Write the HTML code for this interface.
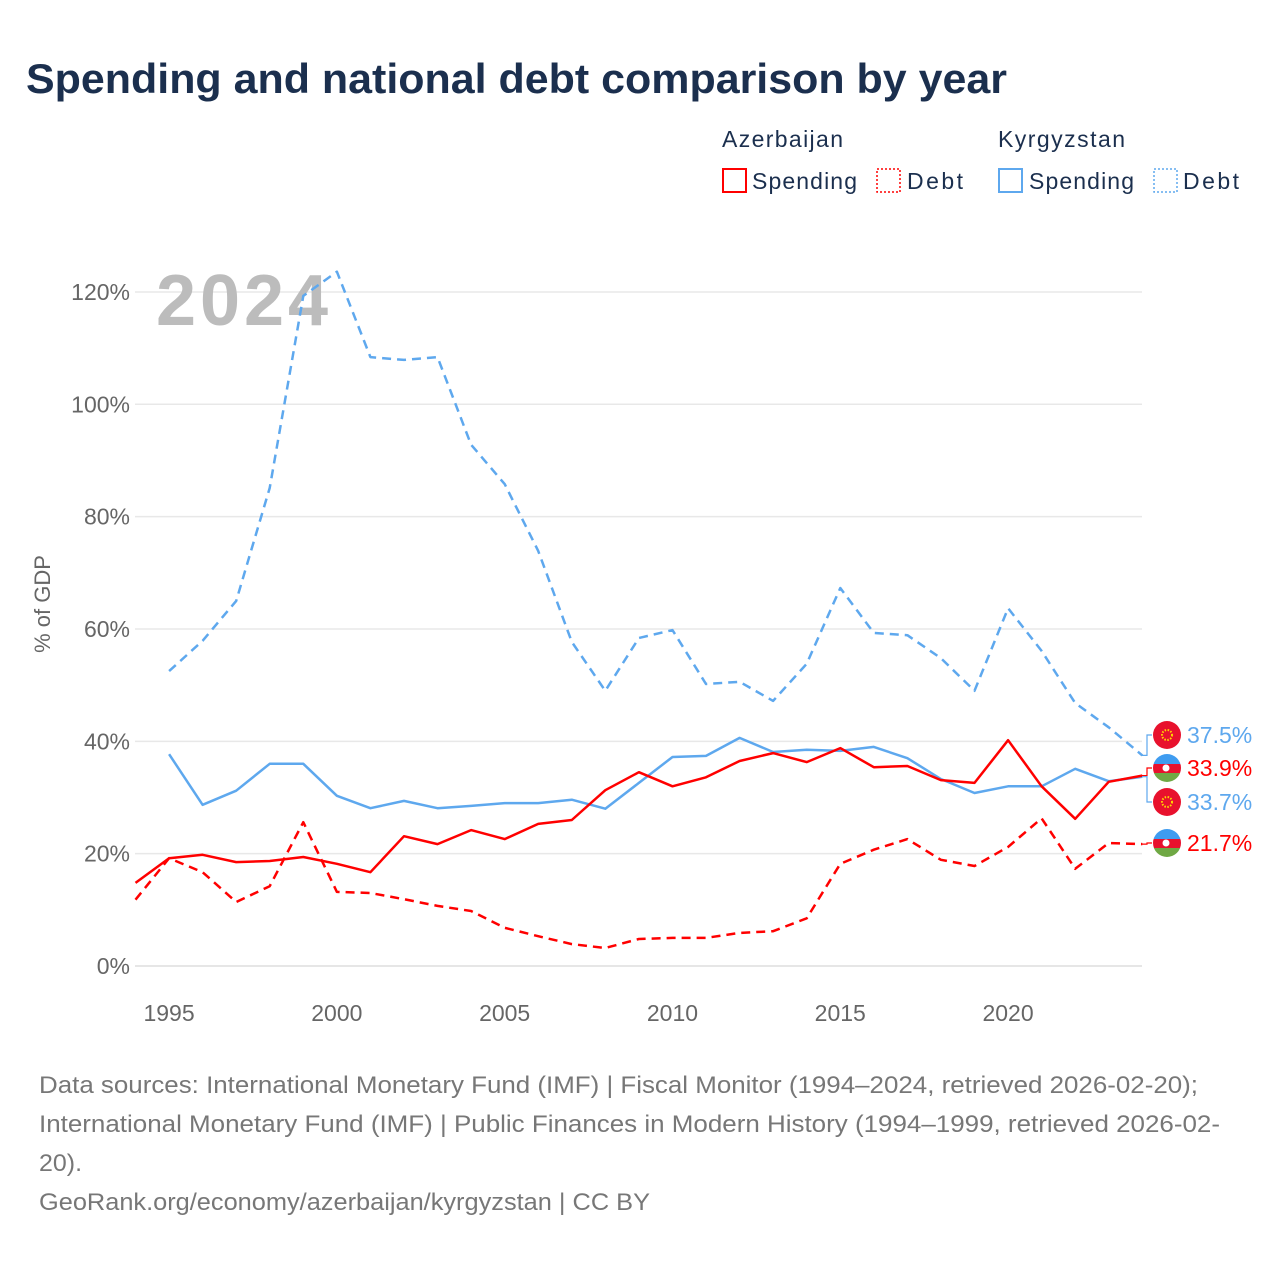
<!DOCTYPE html>
<html><head><meta charset="utf-8"><style>
body{margin:0;background:#fff;font-family:"Liberation Sans",sans-serif;}
svg text{font-family:"Liberation Sans",sans-serif;}
</style></head><body>
<svg id="chart" width="1280" height="1280" viewBox="0 0 1280 1280">
<text x="26" y="93" font-size="42" font-weight="bold" fill="#1b2f4e" textLength="981" lengthAdjust="spacingAndGlyphs">Spending and national debt comparison by year</text>
<g>
<text x="722" y="147" font-size="23" fill="#1b2f4e" textLength="121">Azerbaijan</text>
<text x="998" y="147" font-size="23" fill="#1b2f4e" textLength="127">Kyrgyzstan</text>
<g><rect x="723" y="169" width="23" height="23" fill="none" stroke="#f00" stroke-width="2"/><text x="752" y="189" font-size="23" fill="#1b2f4e" textLength="105">Spending</text></g>
<g><rect x="877" y="169" width="23" height="23" fill="none" stroke="#f00" stroke-width="1.5" stroke-dasharray="2,2"/><text x="907" y="189" font-size="23" fill="#1b2f4e" textLength="56">Debt</text></g>
<g><rect x="999" y="169" width="23" height="23" fill="none" stroke="#5ea8ee" stroke-width="2"/><text x="1029" y="189" font-size="23" fill="#1b2f4e" textLength="105">Spending</text></g>
<g><rect x="1154" y="169" width="23" height="23" fill="none" stroke="#5ea8ee" stroke-width="1.5" stroke-dasharray="2,2"/><text x="1183" y="189" font-size="23" fill="#1b2f4e" textLength="56">Debt</text></g>
</g>
<g id="grid"></g>
<text x="156" y="325" font-size="72" font-weight="bold" fill="#bcbcbc" textLength="172">2024</text>
<text transform="translate(50,604) rotate(-90)" text-anchor="middle" font-size="22" fill="#666">% of GDP</text>
<g id="series"></g>
<g id="labels"></g>
<g font-size="24" fill="#777">
<text x="39" y="1093" textLength="1159" lengthAdjust="spacingAndGlyphs">Data sources: International Monetary Fund (IMF) | Fiscal Monitor (1994–2024, retrieved 2026-02-20);</text>
<text x="39" y="1132" textLength="1181" lengthAdjust="spacingAndGlyphs">International Monetary Fund (IMF) | Public Finances in Modern History (1994–1999, retrieved 2026-02-</text>
<text x="39" y="1171" textLength="43" lengthAdjust="spacingAndGlyphs">20).</text>
<text x="39" y="1210" textLength="611" lengthAdjust="spacingAndGlyphs">GeoRank.org/economy/azerbaijan/kyrgyzstan | CC BY</text>
</g>
</svg>
<script>
const years=[1994,1995,1996,1997,1998,1999,2000,2001,2002,2003,2004,2005,2006,2007,2008,2009,2010,2011,2012,2013,2014,2015,2016,2017,2018,2019,2020,2021,2022,2023,2024];
const azSpending=[14.8,19.2,19.8,18.5,18.7,19.4,18.2,16.7,23.1,21.7,24.2,22.6,25.3,26.0,31.3,34.5,32.0,33.6,36.5,37.9,36.3,38.8,35.4,35.6,33.1,32.6,40.2,32.0,26.2,32.8,33.9];
const azDebt=[11.8,19.2,16.7,11.4,14.2,25.6,13.2,13.0,11.9,10.7,9.8,6.8,5.3,3.9,3.2,4.8,5.0,5.0,5.9,6.2,8.5,18.2,20.7,22.6,18.9,17.8,21.2,26.3,17.3,21.9,21.7];
const kgSpending=[null,37.7,28.7,31.2,36.0,36.0,30.3,28.1,29.4,28.1,28.5,29.0,29.0,29.6,28.0,32.6,37.2,37.4,40.6,38.1,38.5,38.3,39.0,37.0,33.3,30.8,32.0,32.0,35.1,32.9,33.7];
const kgDebt=[null,52.5,57.9,65.0,85.1,119.3,123.6,108.4,107.9,108.4,92.8,85.8,73.9,57.7,49.0,58.4,59.8,50.2,50.6,47.2,53.8,67.3,59.3,58.9,54.8,49.0,63.7,56.1,46.8,42.5,37.5];
const yTicks=[0,20,40,60,80,100,120];
const xTicks=[1995,2000,2005,2010,2015,2020];
const NS="http://www.w3.org/2000/svg";
const X=y=>135.5+(y-1994)*33.56;
const Y=v=>966-v*5.617;
function mk(t,a,p){const e=document.createElementNS(NS,t);for(const k in a)e.setAttribute(k,a[k]);p.appendChild(e);return e;}
const grid=document.getElementById('grid');
yTicks.forEach(t=>{
 const l=mk('line',{x1:135,x2:1142,y1:Y(t),y2:Y(t),stroke:t===0?'#ddd':'#e8e8e8','stroke-width':1.5},grid);
 
 
 const tx=mk('text',{x:130,y:Y(t)+8,'text-anchor':'end','font-size':23,fill:'#666'},grid);
 tx.textContent=t+'%';
 
 
});
xTicks.forEach(t=>{
 const tx=mk('text',{x:X(t),y:1021,'text-anchor':'middle','font-size':23,fill:'#666'},grid);
 tx.textContent=t;
 
 
});
const ser=document.getElementById('series');
function line(vals,color,dash,name){
 let d='';vals.forEach((v,i)=>{if(v==null)return;d+=(d?'L':'M')+X(years[i]).toFixed(1)+','+Y(v).toFixed(1);});
 const p=mk('path',{d:d,fill:'none',stroke:color,'stroke-width':2.5,'stroke-linejoin':'round'},ser);
 if(dash)p.setAttribute('stroke-dasharray','9,6');
 
 
}
line(kgDebt,'#5ea8ee',true,'kyrgyzstan-debt-line');
line(kgSpending,'#5ea8ee',false,'kyrgyzstan-spending-line');
line(azDebt,'#f00',true,'azerbaijan-debt-line');
line(azSpending,'#f00',false,'azerbaijan-spending-line');
const lab=document.getElementById('labels');
const last=years.length-1;
const ends=[
 {v:kgDebt[last],ly:735,c:'#5ea8ee',f:'kg',n:'kyrgyzstan-debt'},
 {v:azSpending[last],ly:768,c:'#f00',f:'az',n:'azerbaijan-spending'},
 {v:kgSpending[last],ly:802,c:'#5ea8ee',f:'kg',n:'kyrgyzstan-spending'},
 {v:azDebt[last],ly:843,c:'#f00',f:'az',n:'azerbaijan-debt'}];
ends.forEach(e=>{
 const g=mk('g',{},lab);
 
 
 const y0=Y(e.v);
 mk('path',{d:`M1142,${y0}H1147V${e.ly}H1152`,fill:'none',stroke:e.c,'stroke-width':1.2},g);
 const cx=1167,cy=e.ly,r=14;
 if(e.f==='kg'){
  mk('circle',{cx,cy,r,fill:'#e8112d'},g);
  mk('circle',{cx,cy,r:5,fill:'none',stroke:'#ffd700','stroke-width':2,'stroke-dasharray':'1.5,1.5'},g);
 }else{
  const cid='c'+e.n;
  const cp=mk('clipPath',{id:cid},g);mk('circle',{cx,cy,r},cp);
  const gg=mk('g',{'clip-path':`url(#${cid})`},g);
  mk('rect',{x:cx-r,y:cy-r,width:28,height:10,fill:'#3f9cf0'},gg);
  mk('rect',{x:cx-r,y:cy-r+10,width:28,height:9,fill:'#e8112d'},gg);
  mk('rect',{x:cx-r,y:cy-r+19,width:28,height:9,fill:'#6fa844'},gg);
  mk('circle',{cx:cx-1,cy,r:3.5,fill:'#fff'},gg);
 }
 const t=mk('text',{x:1187,y:e.ly+8,'font-size':23,fill:e.c},g);
 t.textContent=e.v.toFixed(1)+'%';
});
</script>
</body></html>
